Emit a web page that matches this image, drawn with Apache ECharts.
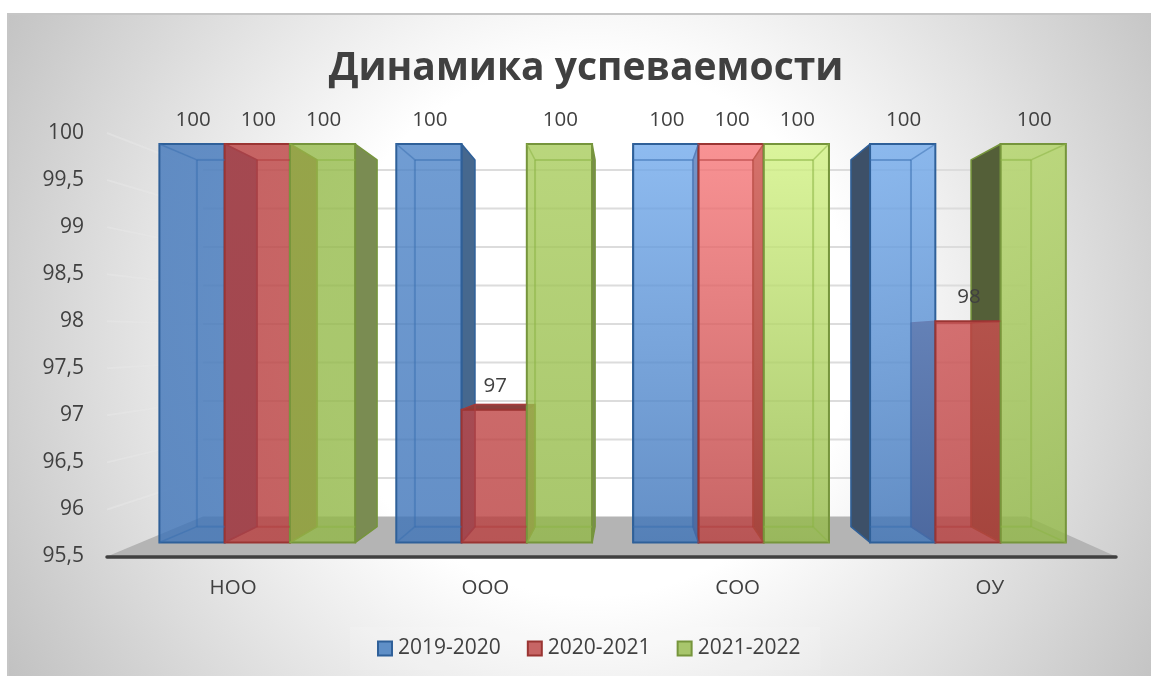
<!DOCTYPE html>
<html>
<head>
<meta charset="utf-8">
<title>Динамика успеваемости</title>
<script src="https://cdn.jsdelivr.net/npm/echarts@6/dist/echarts.min.js"></script>
<style>
    html, body { margin: 0; padding: 0; background: #fff; }
    #chart { width: 1151px; height: 676px; }
</style>
</head>
<body>
<div id="chart"></div>
<script>
var categories = ['НОО', 'ООО', 'СОО', 'ОУ'];
var seriesNames = ['2019-2020', '2020-2021', '2021-2022'];
var values2019 = [100, 100, 100, 100];
var values2020 = [100, 97, 100, 98];
var values2021 = [100, 100, 100, 100];
var yTicks = [95.5, 96, 96.5, 97, 97.5, 98, 98.5, 99, 99.5, 100];

var allValues = [values2019, values2020, values2021];

/* 3D look: the grid is the plane of the axes, everything else is scaled towards the vanishing point */
var VX = 630, VY = 343.5, CY = 345;
var DEPTH_FRONT = 0.941, DEPTH_BACK = 0.866, DEPTH_WALL = 0.818;
var BAR_SHARE = 0.2755;

function project(x, y, d) {
    return [VX + (x - VX) * d * 0.998, VY + (y - CY) * d];
}

function rgba(c, a) {
    return 'rgba(' + c[0] + ',' + c[1] + ',' + c[2] + ',' + a + ')';
}

function mix(a, b, t) {
    return [0, 1, 2].map(function (i) { return Math.round(a[i] + (b[i] - a[i]) * t); });
}

// per series colours, front faces are translucent so the neighbours show through
var palette = [
    { base: [61, 115, 184], light: [114, 170, 236], line: '#2f6099', inner: 'rgba(56,110,175,0.5)', right: '#46688e', left: '#3d5068', swatch: '#5f8fc7' },
    { base: [185, 62, 62], light: [247, 119, 121], line: '#9a3533', inner: 'rgba(175,60,60,0.5)', right: '#9a4a48', left: '#8a3f3c', swatch: '#c76565' },
    { base: [146, 184, 71], light: [210, 242, 131], line: '#76953c', inner: 'rgba(140,180,70,0.55)', right: '#7a8c52', left: '#545f38', swatch: '#a8c66c' }
];

// how much of the lighter colour reaches the top of the bars, by series and group
var lift = [
    [0.05, 0.3, 1, 1],
    [0.05, 0.1, 1, 0.3],
    [0.05, 0.35, 1, 0.5]
];

function poly(points, fill, stroke, width, z2) {
    return {
        type: 'polygon',
        z2: z2,
        silent: true,
        shape: { points: points },
        style: { fill: fill, stroke: stroke, lineWidth: width, lineJoin: 'round' }
    };
}

function line(a, b, color, width, z2) {
    return {
        type: 'line',
        z2: z2,
        silent: true,
        shape: { x1: a[0], y1: a[1], x2: b[0], y2: b[1] },
        style: { stroke: color, lineWidth: width, fill: null }
    };
}

function barBox(s, api) {
    var cat = api.value(0);
    var val = api.value(1);
    var top = api.coord([cat, val]);
    var bottom = api.coord([cat, 95.5]);
    var w = api.size([1, 0])[0] * BAR_SHARE;
    var xL = top[0] + (s - 1.5) * w;
    var xR = xL + w;
    var yT = top[1];
    var yB = bottom[1];
    return {
        cat: cat,
        val: val,
        xL: xL,
        xR: xR,
        fTL: project(xL, yT, DEPTH_FRONT), fTR: project(xR, yT, DEPTH_FRONT),
        fBL: project(xL, yB, DEPTH_FRONT), fBR: project(xR, yB, DEPTH_FRONT),
        bTL: project(xL, yT, DEPTH_BACK), bTR: project(xR, yT, DEPTH_BACK),
        bBL: project(xL, yB, DEPTH_BACK), bBR: project(xR, yB, DEPTH_BACK)
    };
}

// outer sides and tops, they lie under the front faces of the neighbours
function makeRenderSide(s) {
    return function (params, api) {
        var b = barBox(s, api);
        var pal = palette[s];
        var children = [];
        if (b.xR < VX) {
            children.push(poly([b.fTR, b.bTR, b.bBR, b.fBR], pal.right, pal.line, 1.5, 0));
        }
        if (b.xL > VX) {
            children.push(poly([b.fTL, b.bTL, b.bBL, b.fBL], pal.left, pal.line, 1.5, 0));
        }
        if (b.bTL[1] < b.fTL[1]) {
            children.push(poly([b.fTL, b.fTR, b.bTR, b.bTL], pal.left, pal.line, 1, 1));
        }
        return { type: 'group', children: children };
    };
}

function makeRenderFront(s) {
    return function (params, api) {
        var b = barBox(s, api);
        var pal = palette[s];
        var children = [];
        var x0 = b.fTL[0], x1 = b.fTR[0];

        children.push({
            type: 'rect',
            z2: 0,
            silent: true,
            shape: { x: x0, y: b.fTL[1], width: x1 - x0, height: b.fBL[1] - b.fTL[1] },
            style: {
                fill: new echarts.graphic.LinearGradient(0, 0, 0, 1, [
                    { offset: 0, color: rgba(mix(pal.base, pal.light, lift[s][b.cat]), 0.8) },
                    { offset: 1, color: rgba(pal.base, 0.8) }
                ]),
                stroke: pal.line,
                lineWidth: 2
            }
        });

        // hidden back edges show through, only inside the own front face
        var bx0 = Math.max(b.bTL[0], x0), bx1 = Math.min(b.bTR[0], x1);
        children.push(line([bx0, b.bTL[1]], [bx1, b.bTR[1]], pal.inner, 2, 1));
        children.push(line([bx0, b.bBL[1]], [bx1, b.bBR[1]], pal.inner, 2, 1));
        if (b.bTL[0] >= x0) {
            children.push(line(b.bTL, b.bBL, pal.inner, 2, 1));
            children.push(line(b.fTL, b.bTL, pal.inner, 1.5, 1));
            children.push(line(b.fBL, b.bBL, pal.inner, 1.5, 1));
        }
        if (b.bTR[0] <= x1) {
            children.push(line(b.bTR, b.bBR, pal.inner, 2, 1));
            children.push(line(b.fTR, b.bTR, pal.inner, 1.5, 1));
            children.push(line(b.fBR, b.bBR, pal.inner, 1.5, 1));
        }

        // value label
        children.push({
            type: 'text',
            z2: 10,
            silent: true,
            style: {
                text: String(b.val),
                x: (x0 + x1) / 2 + 1,
                y: b.fTL[1] - 24,
                align: 'center',
                verticalAlign: 'middle',
                fill: '#404040',
                font: '20.5px "Open Sans"'
            }
        });
        return { type: 'group', children: children };
    };
}

function renderWall(params, api) {
    var y = api.coord([0, api.value(1)])[1];
    var box = params.coordSys;
    var left = box.x;
    var right = box.x + box.width;
    var bottom = box.y + box.height;
    var children = [];

    if (params.dataIndex === 0) {
        children.push(poly([
            [left, bottom],
            [right, bottom],
            project(right, bottom, DEPTH_WALL),
            project(left, bottom, DEPTH_WALL)
        ], '#b4b4b4', null, 0, 0));
    } else {
        var wallLeft = project(left, y, DEPTH_WALL);
        var wallRight = project(right, y, DEPTH_WALL);
        children.push(line(wallLeft, wallRight, '#dcdcdc', 2, 1));
        children.push(line([left, y], wallLeft, 'rgba(232,232,232,0.5)', 2, 1));
    }
    return { type: 'group', children: children };
}

var series = [{
    type: 'custom',
    name: 'wall',
    z: 1,
    renderItem: renderWall,
    encode: { x: 0, y: 1 },
    data: yTicks.map(function (t) { return [0, t]; }),
    silent: true
}];

seriesNames.forEach(function (name, s) {
    series.push({
        type: 'custom',
        name: 'side ' + name,
        z: 2,
        renderItem: makeRenderSide(s),
        encode: { x: 0, y: 1 },
        data: allValues[s].map(function (v, i) { return [i, v]; }),
        silent: true
    });
});

seriesNames.forEach(function (name, s) {
    series.push({
        type: 'custom',
        name: name,
        z: 3,
        renderItem: makeRenderFront(s),
        encode: { x: 0, y: 1 },
        data: allValues[s].map(function (v, i) { return [i, v]; }),
        itemStyle: { color: palette[s].swatch, borderColor: palette[s].line, borderWidth: 2 },
        silent: true
    });
});

var my_chart = echarts.init(document.getElementById('chart'), null, { renderer: 'canvas' });

my_chart.setOption({
    animation: false,
    textStyle: { fontFamily: '"Open Sans"' },
    title: {
        text: 'Динамика успеваемости',
        left: 581,
        top: 44,
        textAlign: 'center',
        textStyle: { fontSize: 39, fontWeight: 'bold', color: '#404040', fontFamily: '"Open Sans"' }
    },
    graphic: [{
        type: 'rect',
        z: -10,
        silent: true,
        shape: { x: 8, y: 14, width: 1150, height: 670 },
        style: {
            fill: new echarts.graphic.RadialGradient(590, 330, 700, [
                { offset: 0, color: '#ffffff' },
                { offset: 0.38, color: '#ffffff' },
                { offset: 1, color: '#bebebe' }
            ], true),
            stroke: '#c6c6c6',
            lineWidth: 2
        }
    }],
    legend: {
        data: seriesNames,
        left: 350,
        top: 627,
        padding: [11, 20, 11, 27],
        icon: 'rect',
        itemWidth: 14,
        itemHeight: 14,
        itemGap: 26,
        backgroundColor: 'rgba(255,255,255,0.12)',
        textStyle: { fontSize: 21, color: '#404040', padding: [0, 0, 0, 1] }
    },
    grid: { left: 107, right: 35, top: 133, bottom: 119.5 },
    xAxis: {
        type: 'category',
        z: 5,
        data: categories,
        axisTick: { show: false },
        axisLine: { lineStyle: { color: '#404040', width: 3.5 } },
        axisLabel: { fontSize: 20.5, color: '#404040', margin: 21 }
    },
    yAxis: {
        type: 'value',
        min: 95.5,
        max: 100,
        interval: 0.5,
        splitLine: { show: false },
        axisLine: { show: false },
        axisTick: { show: false },
        axisLabel: {
            fontSize: 21,
            color: '#404040',
            margin: 23,
            padding: [4, 0, 0, 0],
            formatter: function (v) { return String(v).replace('.', ','); }
        }
    },
    series: series
});
</script>
</body>
</html>
